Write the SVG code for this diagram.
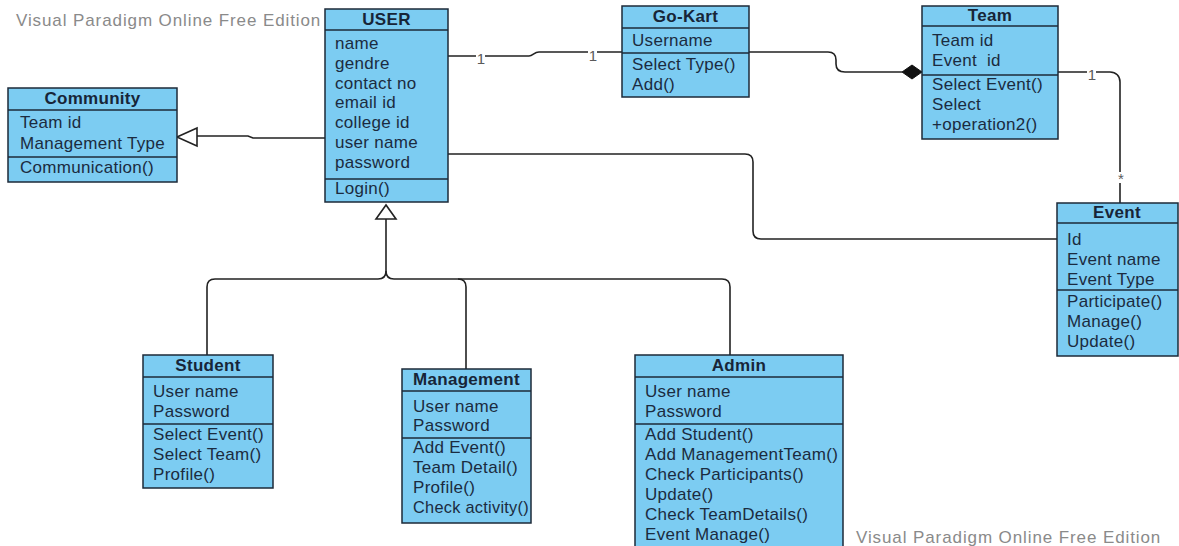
<svg xmlns="http://www.w3.org/2000/svg" width="1179" height="546" viewBox="0 0 1179 546">
  <style>
    .box { fill: #7cccf2; stroke: #1d2a38; stroke-width: 1.5; }
    .sep { stroke: #1d2a38; stroke-width: 1.5; }
    .title { font-family: "Liberation Sans", Arial, sans-serif; font-size: 17px; font-weight: bold; fill: #172538; text-anchor: middle; letter-spacing: 0.3px; }
    .item { font-family: "Liberation Sans", Arial, sans-serif; font-size: 17px; fill: #1b2b40; letter-spacing: 0.3px; }
    .wire { fill: none; stroke: #222; stroke-width: 1.6; }
    .hollow { fill: #fff; stroke: #222; stroke-width: 1.6; stroke-linejoin: miter; }
    .solid { fill: #111; stroke: #111; stroke-width: 1; }
    .gap { fill: #fff; }
    .mult { font-family: "Liberation Sans", Arial, sans-serif; font-size: 15px; fill: #5a5a5a; text-anchor: middle; }
    .mark { font-family: "Liberation Sans", Arial, sans-serif; font-size: 17px; fill: #8a8a8a; letter-spacing: 0.9px; }
  </style>

  <rect width="1179" height="546" fill="#fff"/>

  <!-- edition marks -->
  <text class="mark" x="16" y="26">Visual Paradigm Online Free Edition</text>
  <text class="mark" x="856" y="543">Visual Paradigm Online Free Edition</text>

  <!-- connectors -->
  <g id="connectors">
    <!-- USER generalizes Community -->
    <path class="wire" d="M325,138 H253 L248,136 H197"/>
    <polygon class="hollow" points="177,137 197,128 197,146"/>

    <!-- USER 1 - 1 Go-Kart -->
    <path class="wire" d="M448,56 H529 C533,56 534,52 539,52 H622"/>
    <rect class="gap" x="476" y="53" width="9" height="12"/>
    <text class="mult" x="481" y="64">1</text>
    <rect class="gap" x="588" y="50" width="9" height="12"/>
    <text class="mult" x="593" y="61">1</text>

    <!-- Go-Kart composed into Team -->
    <path class="wire" d="M749,52 H828 C834,52 836,55 836,60 V64 C836,70 839,72 845,72 H902"/>
    <polygon class="solid" points="902,72 912,65 922,72 912,79"/>

    <!-- Team 1 - * Event -->
    <path class="wire" d="M1058,72 H1110 C1116,72 1120,76 1120,82 V203"/>
    <rect class="gap" x="1087" y="69" width="9" height="12"/>
    <text class="mult" x="1092" y="80">1</text>
    <rect class="gap" x="1115" y="172" width="11" height="11"/>
    <text class="mult" x="1121" y="184">*</text>

    <!-- USER - Event -->
    <path class="wire" d="M448,154 H745 C750,154 753,157 753,162 V231 C753,236 756,239 761,239 H1057"/>

    <!-- subclasses of USER -->
    <path class="wire" d="M386,219 V271 C386,276 383,279 378,279 H215 C210,279 207,282 207,287 V355"/>
    <path class="wire" d="M386,271 C386,276 389,279 394,279 H722 C727,279 730,282 730,287 V355"/>
    <path class="wire" d="M458,279 C463,279 466,282 466,287 V369"/>
    <polygon class="hollow" points="386,205 376,219 396,219"/>
  </g>

  <!-- USER -->
  <g id="user">
    <rect class="box" x="325" y="9" width="123" height="193"/>
    <line class="sep" x1="325" y1="30" x2="448" y2="30"/>
    <line class="sep" x1="325" y1="179" x2="448" y2="179"/>
    <text class="title" x="386.5" y="25">USER</text>
    <text class="item" x="335" y="49">name</text>
    <text class="item" x="335" y="69">gendre</text>
    <text class="item" x="335" y="89">contact no</text>
    <text class="item" x="335" y="108">email id</text>
    <text class="item" x="335" y="128">college id</text>
    <text class="item" x="335" y="148">user name</text>
    <text class="item" x="335" y="168">password</text>
    <text class="item" x="335" y="194">Login()</text>
  </g>

  <!-- Community -->
  <g id="community">
    <rect class="box" x="8" y="88" width="169" height="94"/>
    <line class="sep" x1="8" y1="110" x2="177" y2="110"/>
    <line class="sep" x1="8" y1="157" x2="177" y2="157"/>
    <text class="title" x="92.5" y="104">Community</text>
    <text class="item" x="20" y="128">Team id</text>
    <text class="item" x="20" y="149">Management Type</text>
    <text class="item" x="20" y="173">Communication()</text>
  </g>

  <!-- Go-Kart -->
  <g id="gokart">
    <rect class="box" x="622" y="6" width="127" height="91"/>
    <line class="sep" x1="622" y1="28" x2="749" y2="28"/>
    <line class="sep" x1="622" y1="53" x2="749" y2="53"/>
    <text class="title" x="685.5" y="22">Go-Kart</text>
    <text class="item" x="632" y="46">Username</text>
    <text class="item" x="632" y="70">Select Type()</text>
    <text class="item" x="632" y="90">Add()</text>
  </g>

  <!-- Team -->
  <g id="team">
    <rect class="box" x="922" y="6" width="136" height="133"/>
    <line class="sep" x1="922" y1="26" x2="1058" y2="26"/>
    <line class="sep" x1="922" y1="75" x2="1058" y2="75"/>
    <text class="title" x="990" y="21">Team</text>
    <text class="item" x="932" y="46">Team id</text>
    <text class="item" x="932" y="66" xml:space="preserve">Event  id</text>
    <text class="item" x="932" y="90">Select Event()</text>
    <text class="item" x="932" y="110">Select</text>
    <text class="item" x="932" y="130">+operation2()</text>
  </g>

  <!-- Event -->
  <g id="event">
    <rect class="box" x="1057" y="203" width="121" height="153"/>
    <line class="sep" x1="1057" y1="223" x2="1178" y2="223"/>
    <line class="sep" x1="1057" y1="290" x2="1178" y2="290"/>
    <text class="title" x="1117" y="218">Event</text>
    <text class="item" x="1067" y="245">Id</text>
    <text class="item" x="1067" y="265">Event name</text>
    <text class="item" x="1067" y="285">Event Type</text>
    <text class="item" x="1067" y="307">Participate()</text>
    <text class="item" x="1067" y="327">Manage()</text>
    <text class="item" x="1067" y="347">Update()</text>
  </g>

  <!-- Student -->
  <g id="student">
    <rect class="box" x="143" y="355" width="130" height="133"/>
    <line class="sep" x1="143" y1="377" x2="273" y2="377"/>
    <line class="sep" x1="143" y1="424" x2="273" y2="424"/>
    <text class="title" x="208" y="371">Student</text>
    <text class="item" x="153" y="397">User name</text>
    <text class="item" x="153" y="417">Password</text>
    <text class="item" x="153" y="440">Select Event()</text>
    <text class="item" x="153" y="460">Select Team()</text>
    <text class="item" x="153" y="480">Profile()</text>
  </g>

  <!-- Management -->
  <g id="management">
    <rect class="box" x="402" y="369" width="129" height="154"/>
    <line class="sep" x1="402" y1="391" x2="531" y2="391"/>
    <line class="sep" x1="402" y1="438" x2="531" y2="438"/>
    <text class="title" x="466.5" y="385">Management</text>
    <text class="item" x="413" y="412">User name</text>
    <text class="item" x="413" y="431">Password</text>
    <text class="item" x="413" y="453">Add Event()</text>
    <text class="item" x="413" y="473">Team Detail()</text>
    <text class="item" x="413" y="493">Profile()</text>
    <text class="item" x="413" y="513" textLength="116" lengthAdjust="spacingAndGlyphs">Check activity()</text>
  </g>

  <!-- Admin -->
  <g id="admin">
    <rect class="box" x="635" y="355" width="208" height="200"/>
    <line class="sep" x1="635" y1="377" x2="843" y2="377"/>
    <line class="sep" x1="635" y1="424" x2="843" y2="424"/>
    <text class="title" x="739" y="371">Admin</text>
    <text class="item" x="645" y="397">User name</text>
    <text class="item" x="645" y="417">Password</text>
    <text class="item" x="645" y="440">Add Student()</text>
    <text class="item" x="645" y="460">Add ManagementTeam()</text>
    <text class="item" x="645" y="480">Check Participants()</text>
    <text class="item" x="645" y="500">Update()</text>
    <text class="item" x="645" y="520">Check TeamDetails()</text>
    <text class="item" x="645" y="540">Event Manage()</text>
  </g>
</svg>
